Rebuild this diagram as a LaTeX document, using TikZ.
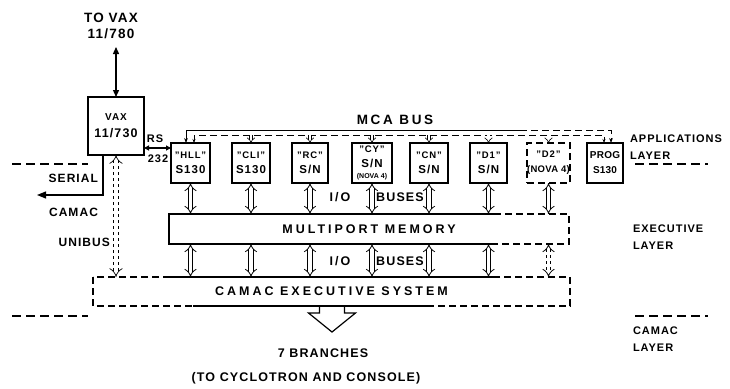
\documentclass[tikz,border=0pt]{standalone}
\usepackage{fontspec}
\setmainfont{Liberation Sans}[LetterSpace=9]
\usetikzlibrary{arrows.meta}
\newcommand\nmf{\fontsize{9.5}{11}\selectfont}
\newcommand\wide{\addfontfeature{LetterSpace=24}}
\begin{document}
\begin{tikzpicture}[x=1pt,y=-1pt,
  every node/.style={inner sep=0pt, outer sep=0pt},
  lbl/.style={font=\fontsize{12.5}{15}\selectfont\bfseries, align=center},
  side/.style={font=\fontsize{11}{17}\selectfont\bfseries, align=left, anchor=west},
  box/.style={draw, line width=1.2pt, minimum height=40pt, align=center, font=\fontsize{11.5}{15}\selectfont\bfseries},
  io/.style={line width=0.8pt, double, double distance=3.5pt, {Implies}-{Implies}},
  stub/.style={line width=0.6pt, double, double distance=2.2pt, -{Implies}},
  layer/.style={line width=1.6pt, dash pattern=on 9pt off 5pt},
  bus/.style={line width=1pt},
  dsh/.style={dash pattern=on 7pt off 4pt}
]
\useasboundingbox (0,0) rectangle (730,388);

% VAX
\node[lbl, font=\fontsize{13.5}{16}\selectfont\bfseries] (tovax) at (111,26) {TO VAX\\11/780};
\node[box, minimum width=56pt, minimum height=58pt, font=\fontsize{12.5}{17}\selectfont\bfseries] (vax) at (116,126) {{\fontsize{10}{12}\selectfont VAX}\\11/730};
\coordinate (vtop) at (116,47);
\draw[line width=1.3pt, {Triangle[length=7pt,width=6pt]}-{Triangle[length=7pt,width=6pt]}] (vtop) -- (vax.north);

% application boxes
\node[box, minimum width=39pt] (hll) at (190.5,163) {{\nmf "HLL"}\\S130};
\node[box, minimum width=38pt] (cli) at (251,163) {{\nmf "CLI"}\\S130};
\node[box, minimum width=36pt] (rc) at (310,163) {{\nmf "RC"}\\S/N};
\node[box, minimum width=40pt] (cy) at (372,163) {{\nmf "CY"}\\S/N\\[-4pt]{\fontsize{7}{8}\selectfont\addfontfeature{LetterSpace=0}(NOVA 4)}};
\node[box, minimum width=38pt] (cn) at (429,163) {{\nmf "CN"}\\S/N};
\node[box, minimum width=37pt] (d1) at (488.5,163) {{\nmf "D1"}\\S/N};
\node[box, dsh, minimum width=43pt] (d2) at (548.5,163) {{\nmf "D2"}\\{\fontsize{9.5}{12}\selectfont\addfontfeature{LetterSpace=3}(NOVA 4)}};
\node[box, minimum width=36pt, font=\fontsize{10}{15}\selectfont\bfseries\addfontfeature{LetterSpace=2}] (prog) at (605,163) {PROG\\S130};

% RS-232
\coordinate (rs) at (144,148);
\draw[line width=1.1pt, {Triangle[length=5pt,width=5pt]}-{Triangle[length=5pt,width=5pt]}] (vax.east |- rs) -- (hll.west |- rs);
\node[font=\fontsize{11}{12}\selectfont\bfseries] (rslbl) at (155,139) {RS};
\node[font=\fontsize{11}{12}\selectfont\bfseries] (rs232) at (158,159) {232};

% MCA bus
\node[lbl, font=\fontsize{13.5}{15}\selectfont\bfseries\addfontfeature{LetterSpace=20}] (mca) at (395,120) {MCA BUS};
\coordinate (bu1) at (186,130);
\coordinate (bu2) at (520,130);
\coordinate (bu3) at (611,130);
\coordinate (bl1) at (194,135);
\coordinate (bl2) at (604,135);
\draw[bus, -{Stealth[length=5pt]}] (bu2) -- (bu1) -- (hll.north -| bu1);
\draw[bus, dsh, -{Stealth[length=5pt]}] (bu2) -- (bu3) -- (prog.north -| bu3);
\draw[bus, dsh, {Stealth[length=4pt]}-{Stealth[length=4pt]}] (hll.north -| bl1) -- (bl1) -- (bl2) -- (prog.north -| bl2);
\foreach \b in {cli,rc,cy,cn,d1,d2} \draw[stub] (\b.north |- bl1) -- (\b.north);

% multiport memory
\node[minimum width=400pt, minimum height=30pt, lbl] (mem) at (369,229) {\wide MULTIPORT MEMORY};
\draw[line width=1.2pt] ([xshift=325pt]mem.north west) -- (mem.north west) -- (mem.south west) -- ([xshift=325pt]mem.south west);
\draw[line width=1.2pt, dsh] ([xshift=325pt]mem.north west) -- (mem.north east) -- (mem.south east) -- ([xshift=325pt]mem.south west);

% CAMAC executive system
\node[minimum width=477pt, minimum height=29pt, lbl] (cam) at (331.5,291.5) {\wide CAMAC EXECUTIVE SYSTEM};
\draw[line width=1.2pt, dsh] (cam.north west) rectangle (cam.south east);
\draw[line width=1.2pt] ([xshift=77pt]cam.north west) -- ([xshift=402pt]cam.north west);
\draw[line width=1.2pt] ([xshift=100pt]cam.south west) -- ([xshift=335pt]cam.south west);

% I/O buses
\foreach \b in {hll,cli,rc,cy,cn,d1,d2} \draw[io] (\b.south) -- (\b.south |- mem.north);
\foreach \b in {hll,cli,rc,cy,cn,d1} \draw[io] (\b.south |- mem.south) -- (\b.south |- cam.north);
\draw[io, dashed] (d2.south |- mem.south) -- (d2.south |- cam.north);
\node[lbl] (io1) at (340,197) {I\,/\,O};
\node[lbl] (bus1) at (400,197) {BUSES};
\node[lbl] (io2) at (340,261) {I\,/\,O};
\node[lbl] (bus2) at (400,261) {BUSES};

% unibus and serial camac
\draw[dashed, line width=0.7pt, double, double distance=4pt, {Implies}-{Implies}] (vax.south) -- (vax.south |- cam.north);
\node[lbl, anchor=east, font=\fontsize{12}{15}\selectfont\bfseries] (unibus) at (110,242) {UNIBUS};
\coordinate (ser) at (37,195);
\draw[line width=1.2pt, -{Triangle[length=9pt,width=7pt]}] ([xshift=-13pt]vax.south) |- (ser);
\node[lbl, anchor=east, font=\fontsize{12}{15}\selectfont\bfseries] (serial) at (98,178) {SERIAL};
\node[lbl, anchor=east, font=\fontsize{12}{15}\selectfont\bfseries] (camac) at (98,212) {CAMAC};

% output arrow
\draw[line width=1.2pt] ([xshift=-12pt]cam.south) -- ++(0,7) -- ++(-11,0) -- ++(23.5,19) -- ++(23.5,-19) -- ++(-11,0) -- ++(0,-7);
\node[lbl] (br) at (323,353) {7 BRANCHES};
\node[lbl] (brto) at (306,378) {(TO CYCLOTRON AND CONSOLE)};

% layers
\draw[layer] (12,164) -- (88,164);
\draw[layer] (12,316) -- (88,316);
\draw[layer] (635,164) -- (708,164);
\draw[layer] (635,316) -- (708,316);
\node[side] (app) at (630,147) {APPLICATIONS\\LAYER};
\node[side] (exe) at (633,237) {EXECUTIVE\\LAYER};
\node[side] (cml) at (633,339) {CAMAC\\LAYER};
\end{tikzpicture}
\end{document}
